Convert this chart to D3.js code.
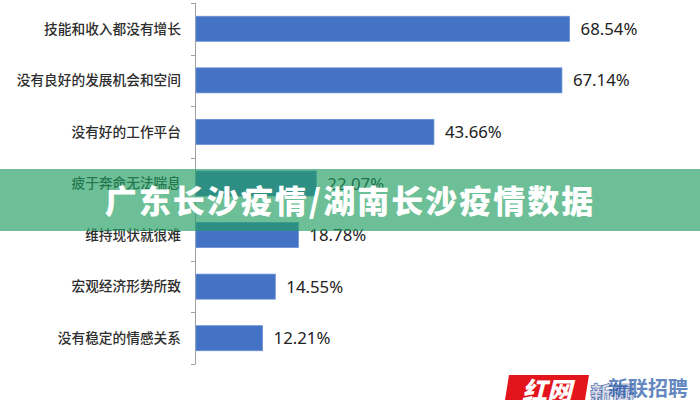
<!DOCTYPE html>
<html>
<head>
<meta charset="utf-8">
<script src="https://cdn.jsdelivr.net/npm/d3@7"></script>
<style>
  html, body { margin: 0; padding: 0; background: #fff; }
  svg { display: block; }
</style>
</head>
<body>
<svg id="chart" width="700" height="400"></svg>
<script>
const categories = [
  "技能和收入都没有增长",
  "没有良好的发展机会和空间",
  "没有好的工作平台",
  "疲于奔命无法喘息",
  "维持现状就很难",
  "宏观经济形势所致",
  "没有稳定的情感关系"
];
const values = [68.54, 67.14, 43.66, 22.07, 18.78, 14.55, 12.21];
const valueLabels = ["68.54%", "67.14%", "43.66%", "22.07%", "18.78%", "14.55%", "12.21%"];
const bannerTitle = "广东长沙疫情/湖南长沙疫情数据";

const svg = d3.select("#chart");
const W = 700, H = 400;

const x = d3.scaleLinear().domain([0, 70]).range([196, 577.5]);
const y = d3.scaleBand().domain(categories).range([3, 364]).padding(0);
const barFrac = 0.485;

const data = categories.map((c, i) => ({ c, v: values[i], label: valueLabels[i] }));

// axis line and boundary ticks
const axisColor = "#a0a0a0";
svg.append("line")
  .attr("x1", 195.5).attr("x2", 195.5)
  .attr("y1", y.range()[0]).attr("y2", y.range()[1])
  .attr("stroke", axisColor).attr("stroke-width", 1);
const boundaries = categories.map(c => y(c)).concat([y.range()[1]]);
svg.selectAll("line.tick").data(boundaries).enter().append("line")
  .attr("class", "tick")
  .attr("x1", 191).attr("x2", 195.5)
  .attr("y1", d => Math.round(d) + 0.5).attr("y2", d => Math.round(d) + 0.5)
  .attr("stroke", axisColor).attr("stroke-width", 1);

// bars
svg.selectAll("rect.bar").data(data).enter().append("rect")
  .attr("class", "bar")
  .attr("x", x(0))
  .attr("y", d => y(d.c) + y.bandwidth() * (1 - barFrac) / 2)
  .attr("width", d => x(d.v) - x(0))
  .attr("height", y.bandwidth() * barFrac)
  .attr("fill", "#4472c4")
  .attr("stroke", "#6a90d4")
  .attr("stroke-width", 0.8);

// category labels
svg.selectAll("text.cat").data(data).enter().append("text")
  .attr("class", "cat")
  .attr("x", 181)
  .attr("y", d => y(d.c) + y.bandwidth() / 2)
  .attr("dy", "0.35em")
  .attr("text-anchor", "end")
  .attr("font-family", "'Noto Sans CJK SC', sans-serif")
  .attr("font-weight", 500)
  .attr("font-size", 13.7)
  .attr("fill", "#2e2e2e")
  .text(d => d.c);

// value labels
svg.selectAll("text.val").data(data).enter().append("text")
  .attr("class", "val")
  .attr("x", d => x(d.v) + 11)
  .attr("y", d => y(d.c) + y.bandwidth() / 2)
  .attr("dy", "0.36em")
  .attr("font-family", "'Noto Sans', 'Open Sans', sans-serif")
  .attr("font-size", 16.8)
  .attr("fill", "#222")
  .text(d => d.label);

// watermark logo (bottom right)
const wm = svg.append("g");
wm.append("path")
  .attr("d", "M509,375 L589,375 L585,400 L505,400 Z")
  .attr("fill", "#e3141b");
wm.append("text")
  .attr("x", 547).attr("y", 400)
  .attr("text-anchor", "middle")
  .attr("font-family", "'Noto Sans CJK SC', sans-serif")
  .attr("font-weight", 900)
  .attr("font-style", "italic")
  .attr("font-size", 25)
  .attr("fill", "#fff")
  .text("红网");
wm.append("text")
  .attr("x", 590).attr("y", 402)
  .attr("font-family", "'Noto Sans CJK SC', sans-serif")
  .attr("font-weight", 900)
  .attr("font-size", 22)
  .attr("fill", "#d8dce6")
  .attr("stroke", "#3b5da8")
  .attr("stroke-width", 0.6)
  .text("新闻");
wm.append("text")
  .attr("x", 608).attr("y", 396)
  .attr("font-family", "'Noto Sans CJK SC', sans-serif")
  .attr("font-weight", 700)
  .attr("font-size", 20)
  .attr("letter-spacing", 0)
  .attr("fill", "#2456a6")
  .attr("opacity", 0.7)
  .text("新联招聘");

// translucent banner
svg.append("rect")
  .attr("x", 0).attr("y", 169)
  .attr("width", W).attr("height", 62)
  .attr("fill", "rgb(34,158,97)")
  .attr("opacity", 0.66);
svg.append("text")
  .attr("x", 350).attr("y", 201)
  .attr("dy", "0.36em")
  .attr("text-anchor", "middle")
  .attr("font-family", "'Noto Sans CJK SC', sans-serif")
  .attr("font-weight", 900)
  .attr("font-size", 32)
  .attr("letter-spacing", 2)
  .attr("fill", "#fff")
  .text(bannerTitle);
</script>
</body>
</html>
